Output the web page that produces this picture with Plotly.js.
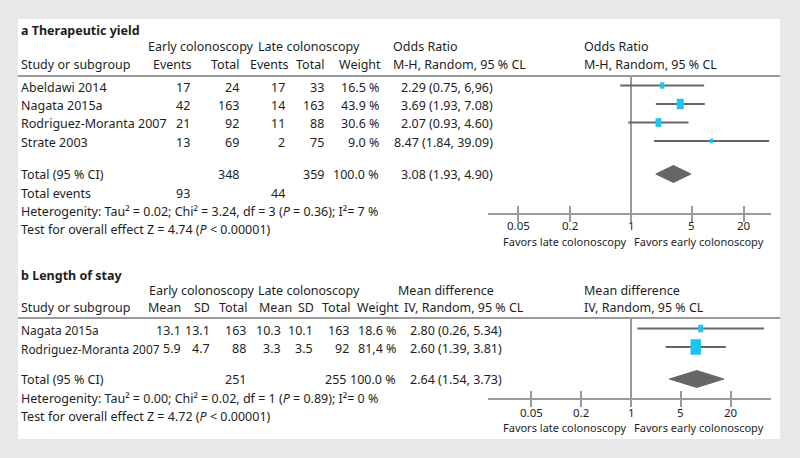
<!DOCTYPE html>
<html><head><meta charset="utf-8">
<script src="https://cdn.plot.ly/plotly-3.0.1.min.js"></script>
<style>html,body{margin:0;padding:0;background:#e8e8e8;}#chart{width:800px;height:458px;}</style>
</head><body><div id="chart"></div>
<script>
// ---------- Data: panel a (Therapeutic yield) ----------
const studiesA = ['Abeldawi 2014', 'Nagata 2015a', 'Rodriguez-Moranta 2007', 'Strate 2003'];
const earlyEventsA = [17, 42, 21, 13];
const earlyTotalA = [24, 163, 92, 69];
const lateEventsA = [17, 14, 11, 2];
const lateTotalA = [33, 163, 88, 75];
const weightA = [16.5, 43.9, 30.6, 9.0];
const weightTextA = ['16.5 %', '43.9 %', '30.6 %', '9.0 %'];
const orA = [2.29, 3.69, 2.07, 8.47];
const loA = [0.75, 1.93, 0.93, 1.84];
const hiA = [6.96, 7.08, 4.60, 39.09];
const ciTextA = ['2.29 (0.75, 6,96)', '3.69 (1.93, 7.08)', '2.07 (0.93, 4.60)', '8.47 (1.84, 39.09)'];
const totalA = {early: 348, late: 359, weight: '100.0 %', est: 3.08, lo: 1.93, hi: 4.90, text: '3.08 (1.93, 4.90)', eventsEarly: 93, eventsLate: 44};
const hetA = 'Heterogenity: Tau² = 0.02; Chi² = 3.24, df = 3 (<i>P</i> = 0.36); I²= 7 %';
const testA = 'Test for overall effect Z = 4.74 (<i>P</i> &lt; 0.00001)';

// ---------- Data: panel b (Length of stay) ----------
const studiesB = ['Nagata 2015a', 'Rodriguez-Moranta 2007'];
const earlyMeanB = [13.1, 5.9];
const earlySDB = [13.1, 4.7];
const earlyTotalB = [163, 88];
const lateMeanB = [10.3, 3.3];
const lateSDB = [10.1, 3.5];
const lateTotalB = [163, 92];
const weightB = [18.6, 81.4];
const weightTextB = ['18.6 %', '81,4 %'];
const mdB = [2.80, 2.60];
const loB = [0.26, 1.39];
const hiB = [5.34, 3.81];
const ciTextB = ['2.80 (0.26, 5.34)', '2.60 (1.39, 3.81)'];
const totalB = {early: 251, late: 255, weight: '100.0 %', est: 2.64, lo: 1.54, hi: 3.73, text: '2.64 (1.54, 3.73)'};
const hetB = 'Heterogenity: Tau² = 0.00; Chi² = 0.02, df = 1 (<i>P</i> = 0.89); I²= 0 %';
const testB = 'Test for overall effect Z = 4.72 (<i>P</i> &lt; 0.00001)';

// Axis tick labels
const tickValsA = [0.05, 0.2, 1, 5, 20];
const tickValsB = [-4, -2, 0, 2, 4];
const tickText = ['0.05', '0.2', '1', '5', '20'];
const favorsLeft = 'Favors late colonoscopy';
const favorsRight = 'Favors early colonoscopy';

// ---------- Layout helpers ----------
const W = 800, H = 458;
const FONT = 'Noto Sans, Open Sans, sans-serif';
const TXT = '#1e1e1e';
const px = x => x / W;
const py = y => 1 - y / H;
const annotations = [];
function ann(text, x, y, align, size, extra) {
  const o = Object.assign({
    text: text, x: px(x), y: py(y), xref: 'paper', yref: 'paper',
    xanchor: align, yanchor: 'middle', showarrow: false,
    borderpad: 0, borderwidth: 0,
    font: {family: FONT, size: size || 12.5, color: TXT}
  }, extra || {});
  annotations.push(o);
}

// Panel a geometry
const A = {title: 31, h1: 47, h2: 64, line: 76, rows: [87, 105.5, 124, 142.5], total: 174, events: 193, het: 211.5, test: 230, axis: 213, ticklab: 226, favors: 241.5};
// Panel b geometry
const B = {title: 275, h1: 290.5, h2: 307, line: 318, rows: [330, 348.5], total: 379, het: 398, test: 416.5, axis: 398, ticklab: 412, favors: 427.5};
const XL = 488, XR = 771, XNULL = 631;

// ---------- Text: panel a ----------
ann('<b>a Therapeutic yield</b>', 21, A.title, 'left');
ann('Early colonoscopy', 148, A.h1, 'left');
ann('Late colonoscopy', 258, A.h1, 'left');
ann('Odds Ratio', 393, A.h1, 'left');
ann('Odds Ratio', 584, A.h1, 'left');
ann('Study or subgroup', 21, A.h2, 'left');
const colA = {ev1: 191, t1: 239, ev2: 289, t2: 324, w: 379, ci: 493};
ann('Events', colA.ev1 + 1, A.h2, 'right');
ann('Total', colA.t1, A.h2, 'right');
ann('Events', colA.ev2, A.h2, 'right');
ann('Total', colA.t2, A.h2, 'right');
ann('Weight', colA.w + 2, A.h2, 'right');
ann('M-H, Random, 95 % CL', 393, A.h2, 'left');
ann('M-H, Random, 95 % CL', 584, A.h2, 'left');
studiesA.forEach((s, i) => {
  const y = A.rows[i];
  ann(s, 21, y, 'left');
  ann(String(earlyEventsA[i]), colA.ev1 - 1, y, 'right');
  ann(String(earlyTotalA[i]), colA.t1, y, 'right');
  ann(String(lateEventsA[i]), colA.ev2 - 4, y, 'right');
  ann(String(lateTotalA[i]), colA.t2, y, 'right');
  ann(weightTextA[i], colA.w, y, 'right');
  ann(ciTextA[i], colA.ci, y, 'right');
});
ann('Total (95 % CI)', 21, A.total, 'left');
ann(String(totalA.early), colA.t1, A.total, 'right');
ann(String(totalA.late), colA.t2, A.total, 'right');
ann(totalA.weight, colA.w, A.total, 'right');
ann(totalA.text, colA.ci, A.total, 'right');
ann('Total events', 21, A.events, 'left');
ann(String(totalA.eventsEarly), colA.ev1 - 1, A.events, 'right');
ann(String(totalA.eventsLate), colA.ev2 - 4, A.events, 'right');
ann(hetA, 21, A.het, 'left');
ann(testA, 21, A.test, 'left');
ann(favorsLeft, 626, A.favors, 'right', 11);
ann(favorsRight, 634, A.favors, 'left', 11);
// tick labels placed through the axis scale
tickValsA.forEach((v, i) => {
  annotations.push({text: tickText[i], x: Math.log10(v), xref: 'x', y: py(A.ticklab), yref: 'paper',
    xanchor: 'center', yanchor: 'middle', showarrow: false, borderpad: 0,
    font: {family: FONT, size: 11.5, color: TXT}});
});

// ---------- Text: panel b ----------
ann('<b>b Length of stay</b>', 21, B.title, 'left');
ann('Early colonoscopy', 149, B.h1, 'left');
ann('Late colonoscopy', 258, B.h1, 'left');
ann('Mean difference', 398, B.h1, 'left');
ann('Mean difference', 584, B.h1, 'left');
ann('Study or subgroup', 21, B.h2, 'left');
const colB = {m1: 181, sd1: 210, t1: 246, m2: 281, sd2: 313, t2: 349, w: 396, ci: 410};
ann('Mean', colB.m1, B.h2, 'right');
ann('SD', colB.sd1, B.h2, 'right');
ann('Total', colB.t1 + 1, B.h2, 'right');
ann('Mean', colB.m2 + 11, B.h2, 'right');
ann('SD', colB.sd2 + 1, B.h2, 'right');
ann('Total', colB.t2 + 1, B.h2, 'right');
ann('Weight', colB.w + 3, B.h2, 'right');
ann('IV, Random, 95 % CL', 404, B.h2, 'left');
ann('IV, Random, 95 % CL', 584, B.h2, 'left');
studiesB.forEach((s, i) => {
  const y = B.rows[i];
  ann(s, 21, y, 'left', 11.9);
  ann(earlyMeanB[i].toFixed(1), colB.m1, y, 'right');
  ann(earlySDB[i].toFixed(1), colB.sd1, y, 'right');
  ann(String(earlyTotalB[i]), colB.t1, y, 'right');
  ann(lateMeanB[i].toFixed(1), colB.m2, y, 'right');
  ann(lateSDB[i].toFixed(1), colB.sd2, y, 'right');
  ann(String(lateTotalB[i]), colB.t2, y, 'right');
  ann(weightTextB[i], colB.w, y, 'right');
  ann(ciTextB[i], colB.ci, y, 'left');
});
ann('Total (95 % CI)', 21, B.total, 'left');
ann(String(totalB.early), colB.t1, B.total, 'right');
ann(String(totalB.late), colB.t2 - 3, B.total, 'right');
ann(totalB.weight, colB.w, B.total, 'right');
ann(totalB.text, colB.ci, B.total, 'left');
ann(hetB, 21, B.het, 'left');
ann(testB, 21, B.test, 'left');
ann(favorsLeft, 626, B.favors, 'right', 11);
ann(favorsRight, 634, B.favors, 'left', 11);
tickValsB.forEach((v, i) => {
  annotations.push({text: tickText[i], x: v, xref: 'x2', y: py(B.ticklab), yref: 'paper',
    xanchor: 'center', yanchor: 'middle', showarrow: false, borderpad: 0,
    font: {family: FONT, size: 11.5, color: TXT}});
});

// ---------- Traces ----------
const CI_COL = '#666666', BOX_COL = '#1fc3f0', AXIS_COL = '#9a9a9a', DIA_COL = '#666666';
const traces = [];
function forest(xa, ya, rows, est, lo, hi, weight, k, nullX, yTop, yAxis, tot, totY) {
  traces.push({x: [nullX, nullX], y: [yTop, yAxis], xaxis: xa, yaxis: ya, mode: 'lines',
    line: {color: AXIS_COL, width: 2}, hoverinfo: 'skip', showlegend: false});
  est.forEach((e, i) => {
    traces.push({x: [lo[i], hi[i]], y: [rows[i] - 1.5, rows[i] - 1.5], xaxis: xa, yaxis: ya, mode: 'lines',
      line: {color: CI_COL, width: 2}, hoverinfo: 'skip', showlegend: false});
  });
  est.forEach((e, i) => {
    const w = k * Math.sqrt(weight[i]);
    const h = w * 1.5;
    traces.push({x: [e, e], y: [rows[i] - 1.5 - h / 2, rows[i] - 1.5 + h / 2], xaxis: xa, yaxis: ya, mode: 'lines',
      line: {color: BOX_COL, width: w}, hoverinfo: 'skip', showlegend: false});
  });
  const dh = 8.5;
  traces.push({x: [tot.lo, tot.est, tot.hi, tot.est, tot.lo], y: [totY, totY - dh, totY, totY + dh, totY],
    xaxis: xa, yaxis: ya, mode: 'lines', fill: 'toself', fillcolor: DIA_COL,
    line: {color: DIA_COL, width: 1}, hoverinfo: 'skip', showlegend: false});
}
forest('x', 'y', A.rows, orA, loA, hiA, weightA, 1.05, 1, A.line, A.axis, totalA, A.total);
forest('x2', 'y2', B.rows, mdB, loB, hiB, weightB, 1.15, 0, B.line, B.axis, totalB, B.total);

// ---------- Layout ----------
const decade = 86.8, unitB = 24.9;
const rangeA = [-(XNULL - XL) / decade, (XR - XNULL) / decade];
const rangeB = [-(XNULL - XL) / unitB, (XR - XNULL) / unitB];
const baseX = {
  showgrid: false, zeroline: false, fixedrange: true,
  showline: true, linecolor: AXIS_COL, linewidth: 2,
  ticks: 'outside', ticklen: 7, tickwidth: 2, tickcolor: AXIS_COL,
  showticklabels: false,
  domain: [px(XL), px(XR)]
};
const innerX = {
  showgrid: false, zeroline: false, fixedrange: true, showline: false,
  ticks: 'inside', ticklen: 7, tickwidth: 2, tickcolor: AXIS_COL, showticklabels: false,
  tickmode: 'array'
};
const layout = {
  width: W, height: H,
  margin: {l: 0, r: 0, t: 0, b: 0},
  paper_bgcolor: '#e8e8e8', plot_bgcolor: 'rgba(0,0,0,0)',
  showlegend: false,
  font: {family: FONT, color: TXT},
  xaxis: Object.assign({}, baseX, {type: 'log', range: rangeA, anchor: 'y', tickmode: 'array', tickvals: tickValsA}),
  xaxis3: Object.assign({}, innerX, {type: 'log', range: rangeA, anchor: 'y', overlaying: 'x', tickvals: tickValsA, domain: [px(XL), px(XR)]}),
  yaxis: {domain: [py(A.axis), py(A.line)], range: [A.axis, A.line], visible: false, fixedrange: true, anchor: 'x'},
  xaxis2: Object.assign({}, baseX, {type: 'linear', range: rangeB, anchor: 'y2', tickmode: 'array', tickvals: tickValsB}),
  xaxis4: Object.assign({}, innerX, {type: 'linear', range: rangeB, anchor: 'y2', overlaying: 'x2', tickvals: tickValsB, domain: [px(XL), px(XR)]}),
  yaxis2: {domain: [py(B.axis), py(B.line)], range: [B.axis, B.line], visible: false, fixedrange: true, anchor: 'x2'},
  shapes: [
    {type: 'rect', xref: 'paper', yref: 'paper', x0: px(18), x1: px(780), y0: py(439), y1: py(19),
      fillcolor: '#ffffff', line: {width: 0}, layer: 'below'},
    {type: 'line', xref: 'paper', yref: 'paper', x0: px(18), x1: px(780), y0: py(A.line), y1: py(A.line),
      line: {color: AXIS_COL, width: 2}},
    {type: 'line', xref: 'paper', yref: 'paper', x0: px(18), x1: px(780), y0: py(B.line), y1: py(B.line),
      line: {color: AXIS_COL, width: 2}}
  ],
  annotations: annotations
};
traces.push({x: [1], y: [A.axis], xaxis: 'x3', yaxis: 'y', mode: 'markers', marker: {opacity: 0}, hoverinfo: 'skip', showlegend: false});
traces.push({x: [0], y: [B.axis], xaxis: 'x4', yaxis: 'y2', mode: 'markers', marker: {opacity: 0}, hoverinfo: 'skip', showlegend: false});

Plotly.newPlot('chart', traces, layout, {displayModeBar: false, staticPlot: true});
</script>
</body></html>
